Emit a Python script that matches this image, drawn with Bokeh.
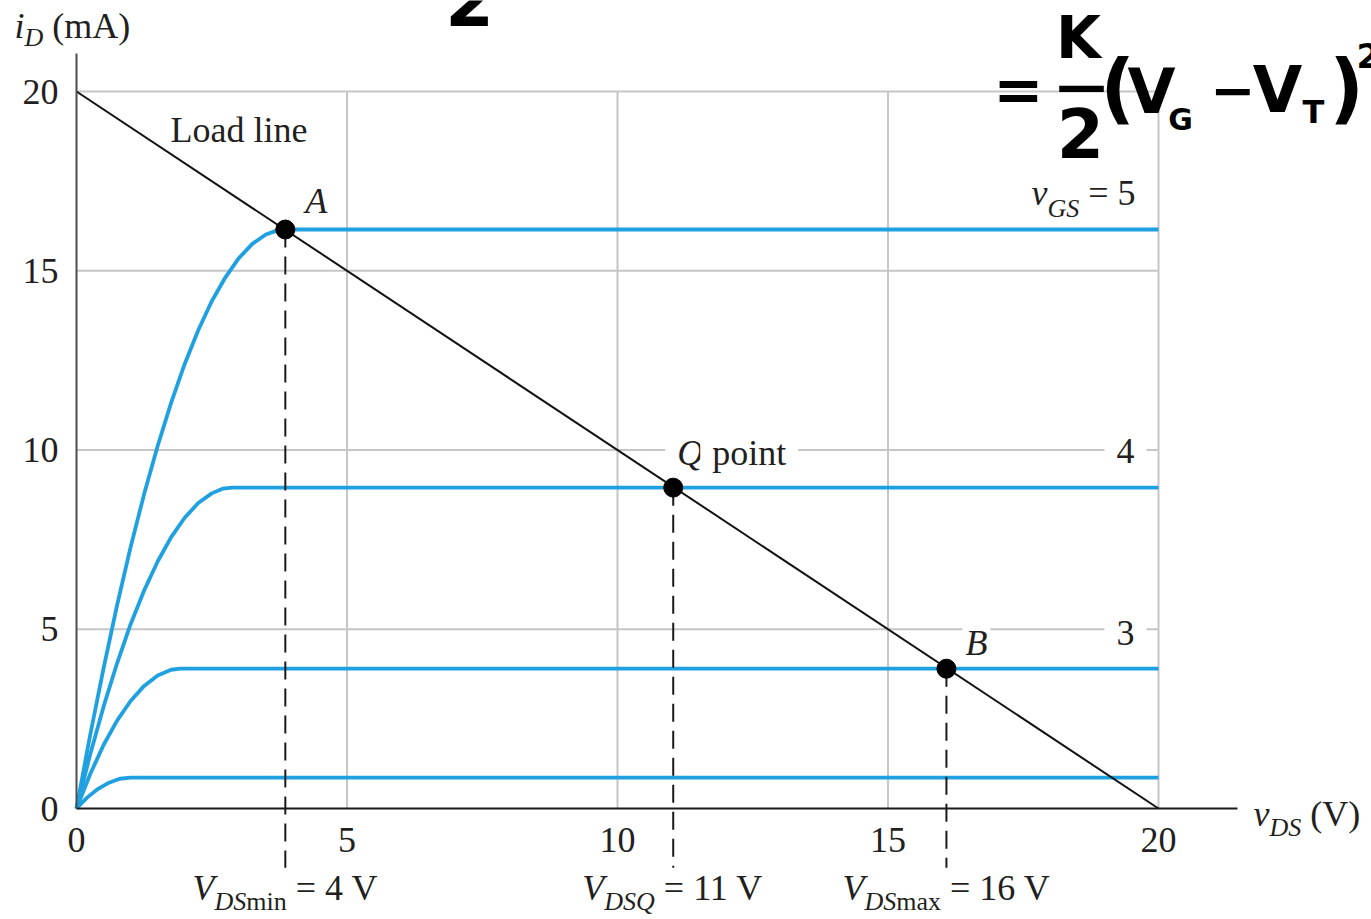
from bokeh.plotting import figure
from bokeh.models import Label, FixedTicker, Range1d
from bokeh.embed import file_html
from bokeh.resources import INLINE

# ---------------- data ----------------
x_ticks = [0, 5, 10, 15, 20]
y_ticks = [0, 5, 10, 15, 20]
grid_vals = [5, 10, 15, 20]

load_v = [0, 20]
load_i = [20, 0]

v_gs5 = [0, 0.25, 0.5, 0.75, 1.0, 1.25, 1.5, 1.75, 2.0, 2.25, 2.5, 2.75, 3.0, 3.25, 3.5, 3.7, 3.86, 20]
i_gs5 = [0, 2.03, 3.91, 5.67, 7.29, 8.77, 10.11, 11.32, 12.40, 13.34, 14.15, 14.81, 15.35, 15.75, 16.01, 16.12, 16.15, 16.15]

v_gs4 = [0, 0.25, 0.5, 0.75, 1.0, 1.25, 1.5, 1.75, 2.0, 2.25, 2.5, 2.7, 2.88, 20]
i_gs4 = [0, 1.49, 2.84, 4.05, 5.14, 6.08, 6.89, 7.57, 8.11, 8.52, 8.79, 8.92, 8.95, 8.95]

v_gs3 = [0, 0.25, 0.5, 0.75, 1.0, 1.25, 1.5, 1.75, 1.92, 20]
i_gs3 = [0, 0.95, 1.77, 2.45, 3.00, 3.42, 3.71, 3.87, 3.90, 3.90]

v_gs2 = [0, 0.2, 0.4, 0.6, 0.8, 1.0, 20]
i_gs2 = [0, 0.31, 0.55, 0.72, 0.83, 0.86, 0.86]

op_names = ["A", "Q", "B"]
op_v = [3.86, 11.03, 16.08]
op_i = [16.15, 8.95, 3.90]
op_sub = ["min", "Q", "max"]
op_text = ["4", "11", "16"]

# ---------------- styling ----------------
BLUE = "#1fa0e0"
TXT = "#231f20"
GRID = "#c6c6c6"
SERIF = "Liberation Serif"
COMIC = "DejaVu Sans"
BIG = 36
SUB = 26
SHIFT = 0.36  # baseline correction (fraction of font size)

W_REG = {" ": 0.25, "=": 0.564, "V": 0.722, "m": 0.778, "i": 0.278, "n": 0.5,
         "a": 0.444, "x": 0.5, "(": 0.333, ")": 0.333, "A": 0.722, "p": 0.5,
         "o": 0.5, "t": 0.278, "L": 0.611, "d": 0.5, "l": 0.278, "e": 0.444}
W_IT = {"V": 0.611, "D": 0.722, "S": 0.5, "Q": 0.722, "v": 0.444, "G": 0.722,
        "i": 0.278, "A": 0.611, "B": 0.611}

W, H = 1371, 915
X0, SX = 76, 54.1     # pixel of v=0 and pixels per volt
Y0, SY = 808, 35.85   # pixel of i=0 and pixels per mA


def at(X, Y):
    return (X - X0) / SX, (Y0 - Y) / SY


def tw(s, size, italic):
    tbl = W_IT if italic else W_REG
    return sum(tbl.get(c, 0.5) for c in s) * size


p = figure(width=W, height=H,
           x_range=Range1d(-X0 / SX, (W - X0) / SX),
           y_range=Range1d((Y0 - H) / SY, Y0 / SY),
           output_backend="svg", toolbar_location=None, min_border=0, title=None)
p.outline_line_color = None
p.grid.visible = False
p.background_fill_color = "white"
p.border_fill_color = "white"

for ax, tks, bnd, col, stand in ((p.xaxis, x_ticks, (0, 21.46), "#1a1a1a", 19),
                                 (p.yaxis, y_ticks, (0, 21.06), "#4d4d4d", 18)):
    ax.fixed_location = 0
    ax.bounds = bnd
    ax.ticker = FixedTicker(ticks=tks)
    ax.major_tick_in = 0
    ax.major_tick_out = 0
    ax.minor_tick_in = 0
    ax.minor_tick_out = 0
    ax.axis_line_color = col
    ax.axis_line_width = 2
    ax.major_label_text_font = SERIF
    ax.major_label_text_font_size = f"{BIG}px"
    ax.major_label_text_color = TXT
    ax.major_label_standoff = stand

# grid lines limited to the 0..20 box
top = max(y_ticks)
right = max(x_ticks)
n = len(grid_vals)
p.segment(x0=grid_vals, y0=[0] * n, x1=grid_vals, y1=[top] * n, line_color=GRID, line_width=2)
p.segment(x0=[0] * n, y0=grid_vals, x1=[right] * n, y1=grid_vals, line_color=GRID, line_width=2)

# characteristic curves
for vv, ii in ((v_gs5, i_gs5), (v_gs4, i_gs4), (v_gs3, i_gs3), (v_gs2, i_gs2)):
    p.line(vv, ii, line_color=BLUE, line_width=3.8, line_join="round")

# load line
p.line(load_v, load_i, line_color="#111111", line_width=2)

# dashed drops
dash_bottom = -1.65
p.segment(x0=op_v, y0=op_i, x1=op_v, y1=[dash_bottom] * len(op_v),
          line_color="#1a1a1a", line_width=2, line_dash="18 9")

# operating points
p.scatter(op_v, op_i, size=19, color="black")


def rich(pieces, x, y, align="left", xo=0, yo=0, bg=None, pad=(0, 0)):
    total = sum(tw(t, s, it) for t, s, it, dy in pieces)
    off = {"left": 0, "center": -total / 2, "right": -total}[align] + xo
    if bg:
        off -= pad[0]
    for t, s, it, dy in pieces:
        lead = len(t) - len(t.lstrip(" "))
        off += lead * 0.25 * s
        tt = t.lstrip(" ")
        lab = Label(x=x, y=y, x_offset=off, y_offset=yo - dy + SHIFT * s, text=tt,
                    text_font=SERIF, text_font_size=f"{s}px",
                    text_font_style="italic" if it else "normal",
                    text_color=TXT, text_baseline="alphabetic", text_align="left")
        if bg:
            lab.background_fill_color = bg
            lab.padding = pad
        p.add_layout(lab)
        off += tw(tt, s, it)


# axis titles
rich([("i", BIG, True, 0), ("D", SUB, True, 8), (" (mA)", BIG, False, 0)], *at(14, 38))
rich([("v", BIG, True, 0), ("DS", SUB, True, 10), (" (V)", BIG, False, 0)], *at(1253, 826))

# Load line label
rich([("Load line", BIG, False, 0)], *at(170, 142))

# operating point letters
rich([("A", BIG, True, 0)], op_v[0], op_i[0], xo=20, yo=16)
rich([("Q", BIG, True, 0), (" point", BIG, False, 0)], op_v[1], op_i[1], xo=4, yo=22,
     bg="white", pad=(12, 1))
rich([("B", BIG, True, 0)], op_v[2], op_i[2], xo=19, yo=13, bg="white", pad=(3, 0))

# vGS labels
rich([("v", BIG, True, 0), ("GS", SUB, True, 12), (" = 5", BIG, False, 0)],
     v_gs5[-1], i_gs5[-1], align="right", xo=-23, yo=24)
rich([("4", BIG, False, 0)], right, 10, align="center", xo=-33, yo=-14, bg="white", pad=(12, 1))
rich([("3", BIG, False, 0)], right, 5, align="center", xo=-33, yo=-17, bg="white", pad=(12, 1))

# V_DS labels under the dashed lines
for v, sub, txt in zip(op_v, op_sub, op_text):
    if sub == "Q":
        pieces = [("V", BIG, True, 0), ("DSQ", SUB, True, 10), (f" = {txt} V", BIG, False, 0)]
    else:
        pieces = [("V", BIG, True, 0), ("DS", SUB, True, 10), (sub, SUB, False, 10),
                  (f" = {txt} V", BIG, False, 0)]
    rich(pieces, v, at(0, 900)[1], align="center")


# handwritten formula overlay (top right) and clipped "2" at top
def comic(t, X, Y, size, align="center"):
    x, y = at(X, Y)
    p.add_layout(Label(x=x, y=y, y_offset=SHIFT * size, text=t, text_font=COMIC,
                       text_font_size=f"{size}px", text_font_style="bold",
                       text_color="black", text_baseline="alphabetic", text_align=align))


comic("2", 469, 25, 70)
comic("=", 1018, 111, 60)
comic("K", 1078, 58, 58)
comic("\u2014", 1081, 103, 50)
comic("2", 1080, 157, 68)
comic("(", 1117, 114, 76)
comic("V", 1151, 113, 62)
comic("G", 1180, 130, 30)
comic("\u2212", 1232, 108, 54)
comic("V", 1277, 113, 64)
comic("T", 1313, 123, 32)
comic(")", 1346, 114, 76)
comic("2", 1356, 67, 34, align="left")

open("out.html", "w").write(file_html(p, INLINE))
